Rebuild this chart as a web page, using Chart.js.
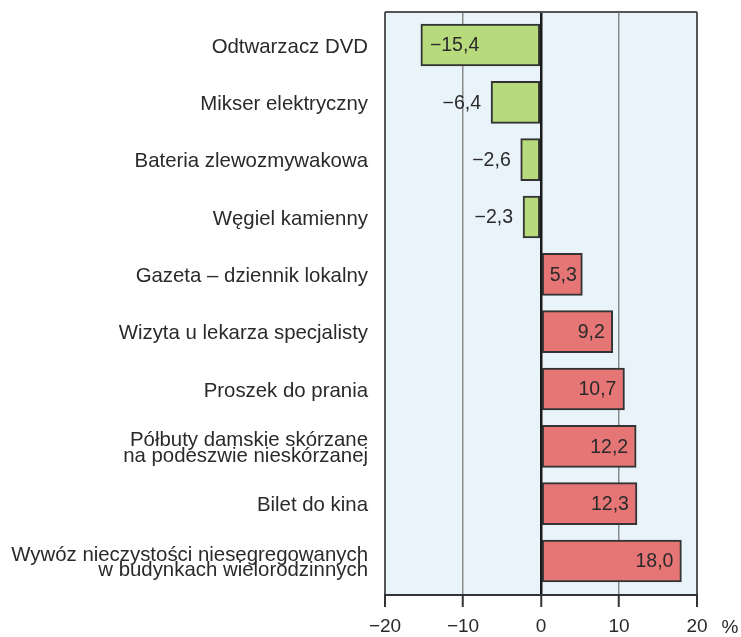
<!DOCTYPE html>
<html>
<head>
<meta charset="utf-8">
<script src="https://cdn.jsdelivr.net/npm/chart.js@4"></script>
<style>
html,body{margin:0;padding:0;background:#fff;}
#wrap{width:741px;height:637px;position:relative;}
</style>
</head>
<body>
<div id="wrap"><canvas id="c" width="741" height="637"></canvas></div>
<script>
const categories = [
  'Odtwarzacz DVD',
  'Mikser elektryczny',
  'Bateria zlewozmywakowa',
  'Węgiel kamienny',
  'Gazeta – dziennik lokalny',
  'Wizyta u lekarza specjalisty',
  'Proszek do prania',
  'Półbuty damskie skórzane\nna podeszwie nieskórzanej',
  'Bilet do kina',
  'Wywóz nieczystości niesegregowanych\nw budynkach wielorodzinnych'
];
const values = [-15.4, -6.4, -2.6, -2.3, 5.3, 9.2, 10.7, 12.2, 12.3, 18.0];
const xTicks = [-20, -10, 0, 10, 20];
const unitLabel = '%';

const FONT = "'Liberation Sans', Arial, sans-serif";
const TEXT = '#2a2a2a';
const GREEN = '#b6da7c';
const RED = '#e67676';
const BG = '#e8f3fa';

function fmt(v) {
  const s = Math.abs(v).toFixed(1).replace('.', ',');
  return v < 0 ? '\u2212' + s : s;
}

const frame = {
  id: 'frame',
  beforeDraw(chart) {
    const {ctx, chartArea: a} = chart;
    ctx.save();
    ctx.fillStyle = BG;
    ctx.fillRect(a.left, a.top, a.right - a.left, a.bottom - a.top);
    ctx.restore();
  },
  beforeDatasetsDraw(chart) {
    const {ctx, chartArea: a} = chart;
    ctx.save();
    ctx.strokeStyle = '#555';
    ctx.lineWidth = 2;
    ctx.beginPath();
    ctx.moveTo(a.left, a.top);
    ctx.lineTo(a.right, a.top);
    ctx.stroke();
    ctx.restore();
  },
  afterDraw(chart) {
    const {ctx} = chart;
    const xs = chart.scales.x;
    ctx.save();
    ctx.font = '19px ' + FONT;
    ctx.fillStyle = TEXT;
    ctx.textAlign = 'center';
    ctx.textBaseline = 'middle';
    ctx.fillText(unitLabel, xs.getPixelForValue(20) + 33, 628);
    ctx.restore();
  }
};

const valueLabels = {
  id: 'valueLabels',
  afterDatasetsDraw(chart) {
    const {ctx, chartArea: a} = chart;
    const meta = chart.getDatasetMeta(0);
    ctx.save();
    ctx.font = '19.5px ' + FONT;
    ctx.fillStyle = TEXT;
    ctx.textBaseline = 'middle';
    meta.data.forEach((bar, i) => {
      const v = values[i];
      const txt = fmt(v);
      const w = ctx.measureText(txt).width;
      const left = Math.min(bar.x, bar.base);
      const right = Math.max(bar.x, bar.base);
      const y = bar.y + 1;
      if (v < 0) {
        if (left - 10 - w < a.left + 4) {
          ctx.textAlign = 'left';
          ctx.fillText(txt, left + 9, y);
        } else {
          ctx.textAlign = 'right';
          ctx.fillText(txt, left - 10, y);
        }
      } else {
        if (w + 16 > right - left) {
          ctx.textAlign = 'center';
          ctx.fillText(txt, (left + right) / 2 + 1, y);
        } else {
          ctx.textAlign = 'right';
          ctx.fillText(txt, right - 8, y);
        }
      }
    });
    ctx.restore();
  }
};

new Chart(document.getElementById('c'), {
  type: 'bar',
  data: {
    labels: categories,
    datasets: [{
      data: values.map((v, i) => ({x: v, y: i})),
      backgroundColor: values.map(v => v < 0 ? GREEN : RED),
      borderColor: '#333',
      borderWidth: 2,
      borderSkipped: false,
      barThickness: 42
    }]
  },
  options: {
    indexAxis: 'y',
    responsive: false,
    animation: false,
    devicePixelRatio: 1,
    layout: {padding: {top: 12, right: 44, bottom: 0, left: 0}},
    plugins: {legend: {display: false}, tooltip: {enabled: false}},
    scales: {
      y: {
        type: 'linear',
        reverse: true,
        offset: false,
        min: -0.576,
        max: 9.593,
        afterFit(s) { s.width = 385; s.paddingTop = 0; s.paddingBottom = 0; },
        afterBuildTicks(s) { s.ticks = categories.map((_, i) => ({value: i})); },
        grid: {display: false, drawTicks: false},
        border: {display: false},
        ticks: {
          padding: 17,
          labelOffset: 2,
          color: TEXT,
          font: {family: FONT, size: 20.4, lineHeight: 0.76},
          callback: (v) => (Number.isInteger(v) && categories[v]) ? categories[v].split('\n') : ''
        }
      },
      x: {
        type: 'linear',
        min: -20,
        max: 20,
        afterFit(s) { s.height = 42; s.paddingLeft = 0; s.paddingRight = 0; },
        afterBuildTicks(s) { s.ticks = xTicks.map(v => ({value: v})); },
        grid: {
          color: (c) => c.tick && c.tick.value === 0 ? '#1a1a1a' : (Math.abs(c.tick.value) === 20 ? '#555' : '#8a8a8a'),
          lineWidth: (c) => c.tick && c.tick.value === 0 ? 2.5 : (Math.abs(c.tick.value) === 20 ? 2 : 1.5),
          tickColor: '#333',
          tickWidth: 2,
          tickLength: 12,
          drawTicks: true
        },
        border: {display: true, color: '#333', width: 2},
        ticks: {
          padding: 8,
          color: TEXT,
          maxRotation: 0,
          font: {family: FONT, size: 19},
          callback: (v) => v < 0 ? '\u2212' + Math.abs(v) : String(v)
        }
      }
    }
  },
  plugins: [frame, valueLabels]
});
</script>
</body>
</html>
